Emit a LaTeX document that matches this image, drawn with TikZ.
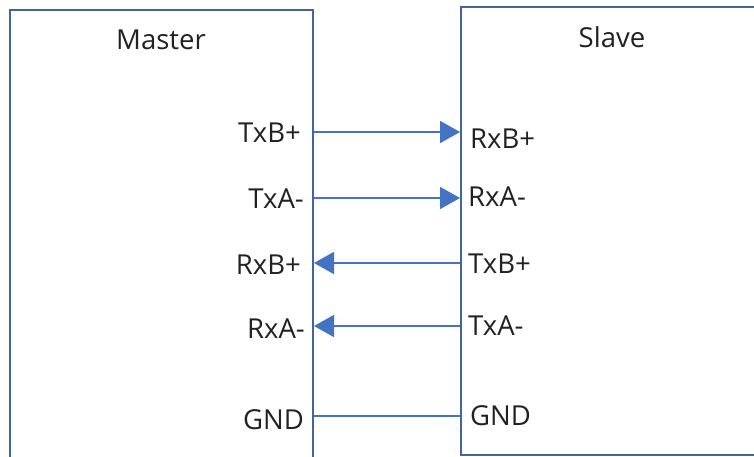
\documentclass[tikz,border=0pt]{standalone}
\usepackage{fontspec}
\setmainfont{Open Sans}
\usetikzlibrary{arrows.meta}
\definecolor{boxline}{RGB}{66,100,160}
\definecolor{wire}{RGB}{68,114,196}
\definecolor{txt}{RGB}{34,34,34}
\begin{document}
\begin{tikzpicture}[x=1pt,y=-1pt,
  boxstyle/.style={draw=boxline,line width=2pt},
  wirestyle/.style={draw=wire,line width=1.8pt},
  arr/.style={wirestyle,-{Triangle[length=20pt,width=22pt]}},
  lbl/.style={inner sep=0pt,text=txt,font=\fontsize{27.5}{32}\selectfont,text height=20pt,text depth=0pt},
  title/.style={lbl}]
\useasboundingbox (0,0) rectangle (754,457);
\fill[white] (0,0) rectangle (754,457);
% boxes
\draw[boxstyle] (10,470) -- (10,10) -- (313,10) -- (313,470);
\draw[boxstyle] (770,7) -- (461,7) -- (461,455) -- (770,455);
\node[title] (mastertitle) at (161,40) {Master};
\node[title] (slavetitle) at (612,38) {Slave};
% ports
\foreach \n/\y in {m1/132,m2/198,m3/263,m4/326,m5/416}{\coordinate (\n) at (314,\y);}
\foreach \n/\y in {s1/132,s2/198,s3/263,s4/326,s5/416}{\coordinate (\n) at (460,\y);}
% labels master
\node[lbl,anchor=east] (lm1) at (301,133) {TxB+};
\node[lbl,anchor=east] (lm2) at (304,198) {TxA-};
\node[lbl,anchor=east] (lm3) at (301,264) {RxB+};
\node[lbl,anchor=east] (lm4) at (305,328) {RxA-};
\node[lbl,anchor=east] (lm5) at (304,419) {GND};
% labels slave
\node[lbl,anchor=west] (ls1) at (470,139) {RxB+};
\node[lbl,anchor=west] (ls2) at (468,196) {RxA-};
\node[lbl,anchor=west] (ls3) at (468,263) {TxB+};
\node[lbl,anchor=west] (ls4) at (468,325) {TxA-};
\node[lbl,anchor=west] (ls5) at (470,415) {GND};
% wires
\draw[arr] (m1) -- (s1);
\draw[arr] (m2) -- (s2);
\draw[arr] (s3) -- (m3);
\draw[arr] (s4) -- (m4);
\draw[wirestyle] (m5) -- (s5);
\end{tikzpicture}
\end{document}
